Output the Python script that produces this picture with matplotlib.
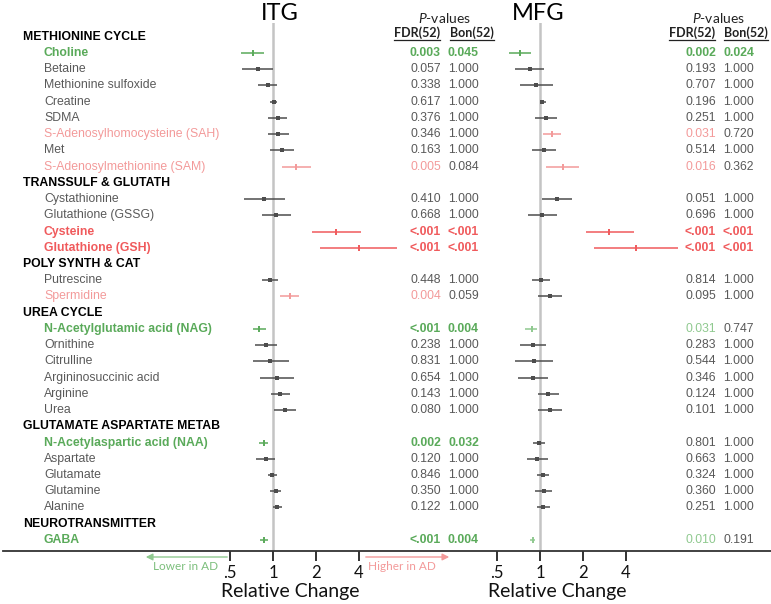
import numpy as np
import matplotlib
matplotlib.use("Agg")
import matplotlib.pyplot as plt
from matplotlib import transforms
from matplotlib.lines import Line2D
import matplotlib.patches as mpatches

matplotlib.rcParams["mathtext.fontset"] = "custom"
matplotlib.rcParams["mathtext.it"] = "Lato:italic"
matplotlib.rcParams["mathtext.rm"] = "Lato"

# ---------------- data ----------------
groups = ["METHIONINE CYCLE", "TRANSSULF & GLUTATH", "POLY SYNTH & CAT",
          "UREA CYCLE", "GLUTAMATE ASPARTATE METAB", "NEUROTRANSMITTER"]
group_sizes = [8, 4, 2, 6, 5, 1]
metabolites = ["Choline", "Betaine", "Methionine sulfoxide", "Creatine", "SDMA",
               "S-Adenosylhomocysteine (SAH)", "Met", "S-Adenosylmethionine (SAM)",
               "Cystathionine", "Glutathione (GSSG)", "Cysteine", "Glutathione (GSH)",
               "Putrescine", "Spermidine",
               "N-Acetylglutamic acid (NAG)", "Ornithine", "Citrulline",
               "Argininosuccinic acid", "Arginine", "Urea",
               "N-Acetylaspartic acid (NAA)", "Aspartate", "Glutamate", "Glutamine", "Alanine",
               "GABA"]
label_cat = ["G", "n", "n", "n", "n", "r", "n", "r",
             "n", "n", "R", "R", "n", "r",
             "G", "n", "n", "n", "n", "n",
             "G", "n", "n", "n", "n", "G"]

itg_est = [0.72, 0.78, 0.93, 1.02, 1.08, 1.09, 1.16, 1.45,
           0.865, 1.05, 2.76, 4.02, 0.95, 1.31,
           0.80, 0.89, 0.96, 1.06, 1.125, 1.21,
           0.865, 0.89, 0.99, 1.05, 1.07, 0.86]
itg_lo = [0.60, 0.61, 0.79, 0.96, 0.92, 0.92, 0.95, 1.16,
          0.627, 0.84, 1.87, 2.13, 0.84, 1.12,
          0.72, 0.75, 0.73, 0.81, 0.97, 1.02,
          0.80, 0.76, 0.93, 0.96, 0.995, 0.81]
itg_hi = [0.87, 1.00, 1.07, 1.07, 1.26, 1.30, 1.40, 1.84,
          1.22, 1.33, 4.11, 7.4, 1.08, 1.53,
          0.89, 1.07, 1.29, 1.40, 1.31, 1.44,
          0.93, 1.03, 1.07, 1.14, 1.15, 0.92]
itg_cat = ["G", "n", "n", "n", "n", "n", "n", "r",
           "n", "n", "R", "R", "n", "r",
           "G", "n", "n", "n", "n", "n",
           "G", "n", "n", "n", "n", "G"]

mfg_est = [0.72, 0.85, 0.94, 1.04, 1.10, 1.21, 1.06, 1.44,
           1.32, 1.04, 3.05, 4.69, 1.02, 1.17,
           0.88, 0.89, 0.91, 0.89, 1.14, 1.17,
           0.98, 0.95, 1.05, 1.07, 1.05, 0.89]
mfg_lo = [0.61, 0.67, 0.73, 1.00, 0.93, 1.05, 0.875, 1.11,
          1.04, 0.83, 2.10, 2.39, 0.875, 0.97,
          0.79, 0.72, 0.67, 0.70, 0.97, 0.97,
          0.89, 0.81, 0.96, 0.93, 0.96, 0.85]
mfg_hi = [0.86, 1.07, 1.23, 1.11, 1.32, 1.41, 1.30, 1.88,
          1.68, 1.32, 4.55, 9.2, 1.18, 1.42,
          0.95, 1.10, 1.23, 1.13, 1.35, 1.42,
          1.08, 1.14, 1.16, 1.22, 1.17, 0.93]
mfg_cat = ["G", "n", "n", "n", "n", "r", "n", "r",
           "n", "n", "R", "R", "n", "n",
           "g", "n", "n", "n", "n", "n",
           "n", "n", "n", "n", "n", "g"]

itg_fdr = ["0.003", "0.057", "0.338", "0.617", "0.376", "0.346", "0.163", "0.005",
           "0.410", "0.668", "<.001", "<.001", "0.448", "0.004",
           "<.001", "0.238", "0.831", "0.654", "0.143", "0.080",
           "0.002", "0.120", "0.846", "0.350", "0.122", "<.001"]
itg_bon = ["0.045", "1.000", "1.000", "1.000", "1.000", "1.000", "1.000", "0.084",
           "1.000", "1.000", "<.001", "<.001", "1.000", "0.059",
           "0.004", "1.000", "1.000", "1.000", "1.000", "1.000",
           "0.032", "1.000", "1.000", "1.000", "1.000", "0.004"]
mfg_fdr = ["0.002", "0.193", "0.707", "0.196", "0.251", "0.031", "0.514", "0.016",
           "0.051", "0.696", "<.001", "<.001", "0.814", "0.095",
           "0.031", "0.283", "0.544", "0.346", "0.124", "0.101",
           "0.801", "0.663", "0.324", "0.360", "0.251", "0.010"]
mfg_bon = ["0.024", "1.000", "1.000", "1.000", "1.000", "0.720", "1.000", "0.362",
           "1.000", "1.000", "<.001", "<.001", "1.000", "1.000",
           "0.747", "1.000", "1.000", "1.000", "1.000", "1.000",
           "1.000", "1.000", "1.000", "1.000", "1.000", "0.191"]
itg_fdr_cat = ["G", "n", "n", "n", "n", "n", "n", "r", "n", "n", "R", "R", "n", "r",
               "G", "n", "n", "n", "n", "n", "G", "n", "n", "n", "n", "G"]
itg_bon_cat = ["G", "n", "n", "n", "n", "n", "n", "n", "n", "n", "R", "R", "n", "n",
               "G", "n", "n", "n", "n", "n", "G", "n", "n", "n", "n", "G"]
mfg_fdr_cat = ["G", "n", "n", "n", "n", "r", "n", "r", "n", "n", "R", "R", "n", "n",
               "g", "n", "n", "n", "n", "n", "n", "n", "n", "n", "n", "g"]
mfg_bon_cat = ["G", "n", "n", "n", "n", "n", "n", "n", "n", "n", "R", "R", "n", "n",
               "n", "n", "n", "n", "n", "n", "n", "n", "n", "n", "n", "n"]

xticks = [0.5, 1, 2, 4]
xticklabels = [".5", "1", "2", "4"]

# ---------------- style ----------------
COL = {"G": "#5aaa5a", "g": "#8fc98f", "R": "#f05a5c", "r": "#f39a9a", "n": "#595959"}
BAR = {"G": "#5aaa5a", "g": "#8fc98f", "R": "#f05a5c", "r": "#f39a9a", "n": "#4d4d4d"}
LAB_FONT = ["Liberation Sans", "DejaVu Sans"]
CAL_FONT = ["Lato", "DejaVu Sans"]
FS = 8.8

W, H = 771, 604
fig = plt.figure(figsize=(W / 100, H / 100), dpi=100)


def fx(px):
    return px / W


def fy(py):
    return 1 - py / H


# row positions (header rows interleaved)
row_y = []
hdr_y = []
r = 0
for gs in group_sizes:
    hdr_y.append(r)
    r += 1
    for _ in range(gs):
        row_y.append(r)
        r += 1
row_y = np.array(row_y, dtype=float)

ROW0, ROWH = 36.8, 16.23
TOP, BOT = 23.0, 551.0
ylim = ((BOT - ROW0) / ROWH, (TOP - ROW0) / ROWH)
PXOCT = 43.0


def make_panel(left_px, right_px, one_px):
    ax = fig.add_axes([fx(left_px), fy(BOT), fx(right_px - left_px), (BOT - TOP) / H])
    ax.set_xscale("log", base=2)
    ax.set_xlim(2 ** ((left_px - one_px) / PXOCT), 2 ** ((right_px - one_px) / PXOCT))
    ax.set_ylim(*ylim)
    for s in ax.spines.values():
        s.set_visible(False)
    ax.patch.set_alpha(0)
    ax.set_yticks([])
    ax.set_xticks(xticks)
    ax.set_xticklabels(xticklabels, fontfamily=CAL_FONT, fontsize=12)
    ax.xaxis.set_minor_locator(matplotlib.ticker.NullLocator())
    ax.tick_params(axis="x", direction="out", length=7, width=1.3, color="#222222",
                   labelcolor="#111111", pad=3)
    ax.axvline(1, color="#c4c4c4", lw=1.8, zorder=0)
    return ax


ax1 = make_panel(195, 405, 273)
ax2 = make_panel(455, 700, 540)


def draw_bars(ax, est, lo, hi, cats):
    est = np.array(est); lo = np.array(lo); hi = np.array(hi)
    for i in range(len(est)):
        c = BAR[cats[i]]
        ax.plot([lo[i], hi[i]], [row_y[i], row_y[i]], color=c, lw=1.1,
                solid_capstyle="butt", clip_on=False)
        if cats[i] == "n":
            ax.plot(est[i], row_y[i], marker="s", ms=2.3, color=c, mew=0, clip_on=False)
        else:
            ax.plot(est[i], row_y[i], marker="|", ms=4.8, mew=1.4, color=c, clip_on=False)


draw_bars(ax1, itg_est, itg_lo, itg_hi, itg_cat)
draw_bars(ax2, mfg_est, mfg_lo, mfg_hi, mfg_cat)

tr = transforms.blended_transform_factory(fig.transFigure, ax1.transData)

for g, yy in zip(groups, hdr_y):
    fig.text(fx(23), yy, g, transform=tr, fontfamily=LAB_FONT,
             fontsize=FS, fontweight="bold", color="black", va="center", ha="left")
for name, c, yy in zip(metabolites, label_cat, row_y):
    fig.text(fx(44), yy, name, transform=tr, fontfamily=LAB_FONT, fontsize=FS,
             fontweight="bold" if c in ("G", "R") else "normal",
             color=COL[c], va="center", ha="left")


def pcol(vals, cats, xr):
    for v, c, yy in zip(vals, cats, row_y):
        fig.text(fx(xr), yy, v, transform=tr, fontfamily=LAB_FONT, fontsize=FS,
                 fontweight="bold" if c in ("G", "R") else "normal",
                 color=COL[c], va="center", ha="right")


pcol(itg_fdr, itg_fdr_cat, 441)
pcol(itg_bon, itg_bon_cat, 479)
pcol(mfg_fdr, mfg_fdr_cat, 716)
pcol(mfg_bon, mfg_bon_cat, 754)

# titles
fig.text(fx(280), fy(13), "ITG", fontfamily=CAL_FONT, fontsize=17, ha="center", va="center")
fig.text(fx(538), fy(13), "MFG", fontfamily=CAL_FONT, fontsize=17, ha="center", va="center")

# p-value headers
underlined = []
for cx, fr, bl in [(444, 440, 450), (718, 715, 724)]:
    fig.text(fx(cx), fy(18), "$\\mathit{P}$-values", fontfamily=CAL_FONT, fontsize=10,
             ha="center", va="center", color="#222222")
    t1 = fig.text(fx(fr), fy(33), "FDR(52)", fontfamily=CAL_FONT, fontsize=9,
                  fontweight="bold", ha="right", va="center", color="#222222")
    t2 = fig.text(fx(bl), fy(33), "Bon(52)", fontfamily=CAL_FONT, fontsize=9,
                  fontweight="bold", ha="left", va="center", color="#222222")
    underlined += [t1, t2]

renderer = fig.canvas.get_renderer()
for t in underlined:
    bb = t.get_window_extent(renderer)
    fig.add_artist(Line2D([bb.x0 / W, bb.x1 / W], [fy(39.5), fy(39.5)],
                          transform=fig.transFigure, color="#222222", lw=0.9))

# main horizontal axis line
fig.add_artist(Line2D([fx(3), fx(771)], [fy(BOT), fy(BOT)], transform=fig.transFigure,
                      color="#333333", lw=1.3))

# relative change labels
fig.text(fx(290), fy(592), "Relative Change", fontfamily=CAL_FONT, fontsize=14,
         ha="center", va="center", color="#111111")
fig.text(fx(557), fy(592), "Relative Change", fontfamily=CAL_FONT, fontsize=14,
         ha="center", va="center", color="#111111")

# direction arrows
fig.add_artist(mpatches.FancyArrowPatch(
    (fx(230), fy(557)), (fx(143), fy(557)), transform=fig.transFigure,
    arrowstyle="-|>,head_length=4,head_width=2", color=COL["g"], lw=1.0, mutation_scale=1))
fig.text(fx(186), fy(567), "Lower in AD", fontfamily=CAL_FONT, fontsize=8.5,
         color="#7cbf7c", ha="center", va="center")
fig.add_artist(mpatches.FancyArrowPatch(
    (fx(363), fy(557)), (fx(452), fy(557)), transform=fig.transFigure,
    arrowstyle="-|>,head_length=4,head_width=2", color=COL["r"], lw=1.0, mutation_scale=1))
fig.text(fx(402), fy(567), "Higher in AD", fontfamily=CAL_FONT, fontsize=8.5,
         color=COL["r"], ha="center", va="center")

fig.savefig("out.png", dpi=100)
